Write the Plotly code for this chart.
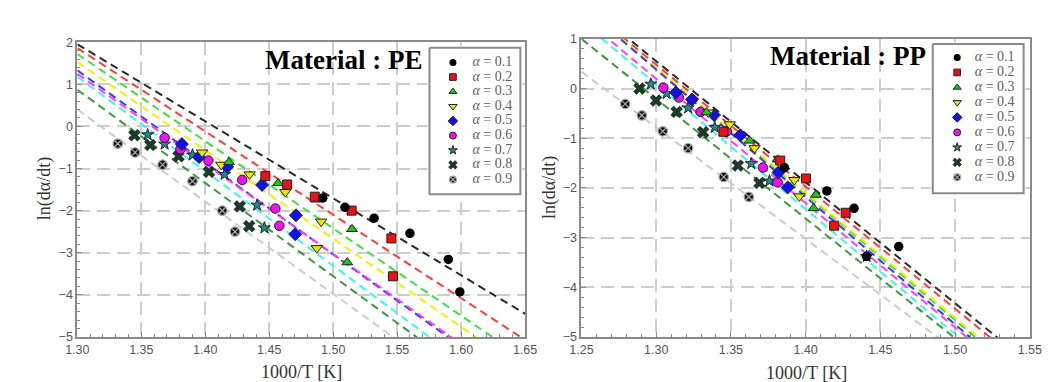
import plotly.graph_objects as go

# ---------------- data ----------------
alpha_labels = ["0.1", "0.2", "0.3", "0.4", "0.5", "0.6", "0.7", "0.8", "0.9"]

# PE (left panel) measured points
pe_a01_x = [1.4919, 1.5092, 1.532, 1.560, 1.590, 1.599]
pe_a01_y = [-1.70, -1.92, -2.18, -2.54, -3.16, -3.93]
pe_a02_x = [1.447, 1.464, 1.4856, 1.5144, 1.5455, 1.5468]
pe_a02_y = [-1.18, -1.38, -1.67, -2.00, -2.66, -3.56]
pe_a03_x = [1.4185, 1.4569, 1.4867, 1.5147, 1.511]
pe_a03_y = [-0.85, -1.35, -1.74, -2.44, -3.23]
pe_a04_x = [1.3975, 1.4125, 1.4346, 1.4626, 1.4906, 1.4872]
pe_a04_y = [-0.62, -0.91, -1.14, -1.56, -2.26, -2.89]
pe_a05_x = [1.3817, 1.3952, 1.4172, 1.4444, 1.4709, 1.4703]
pe_a05_y = [-0.42, -0.73, -0.96, -1.39, -2.11, -2.56]
pe_a06_x = [1.3682, 1.3806, 1.4024, 1.4289, 1.4548, 1.4579]
pe_a06_y = [-0.27, -0.54, -0.81, -1.27, -1.95, -2.36]
pe_a07_x = [1.355, 1.3682, 1.39, 1.4151, 1.4405, 1.4462]
pe_a07_y = [-0.20, -0.42, -0.68, -1.14, -1.87, -2.41]
pe_a08_x = [1.3446, 1.357, 1.3791, 1.4029, 1.427, 1.4343]
pe_a08_y = [-0.21, -0.44, -0.71, -1.08, -1.90, -2.37]
pe_a09_x = [1.3316, 1.3451, 1.3666, 1.39, 1.4133, 1.4232]
pe_a09_y = [-0.41, -0.62, -0.91, -1.30, -2.00, -2.50]

# PE fit lines: value at x = 1.30 and at x = 1.65
pe_fit_x = [1.30, 1.65]
pe_fit_y_start = [1.95, 1.86, 1.72, 1.53, 1.33, 1.25, 1.18, 0.87, 0.40]
pe_fit_y_end = [-4.45, -5.07, -5.53, -5.81, -6.32, -6.24, -6.68, -6.88, -7.26]

# PP (right panel) measured points
pp_a01_x = [1.3858, 1.4142, 1.4324, 1.4408, 1.4623]
pp_a01_y = [-1.59, -2.06, -2.41, -3.38, -3.18]
pp_a02_x = [1.345, 1.383, 1.4002, 1.4191, 1.4268]
pp_a02_y = [-0.87, -1.45, -1.81, -2.76, -2.50]
pp_a03_x = [1.3337, 1.3625, 1.3813, 1.4069, 1.4053]
pp_a03_y = [-0.48, -1.05, -1.43, -2.14, -2.41]
pp_a04_x = [1.3348, 1.3492, 1.3658, 1.3924, 1.3958]
pp_a04_y = [-0.48, -0.72, -1.20, -1.84, -2.17]
pp_a05_x = [1.3132, 1.3239, 1.3387, 1.3563, 1.3818, 1.388]
pp_a05_y = [-0.08, -0.22, -0.53, -0.94, -1.69, -1.99]
pp_a06_x = [1.3048, 1.3152, 1.3297, 1.3472, 1.3714, 1.3813]
pp_a06_y = [0.02, -0.18, -0.47, -0.86, -1.59, -1.89]
pp_a07_x = [1.2964, 1.307, 1.3214, 1.3392, 1.3636, 1.3758, 1.4408]
pp_a07_y = [0.09, -0.10, -0.39, -0.78, -1.51, -1.86, -3.38]
pp_a08_x = [1.2888, 1.2999, 1.3137, 1.3314, 1.3547, 1.3691]
pp_a08_y = [0.0, -0.24, -0.47, -0.88, -1.55, -1.90]
pp_a09_x = [1.2793, 1.2904, 1.3044, 1.3214, 1.3452, 1.362]
pp_a09_y = [-0.31, -0.54, -0.86, -1.20, -1.78, -2.18]

# PP fit lines: value at x = 1.25 and at x = 1.55
pp_fit_x = [1.25, 1.55]
pp_fit_y_start = [1.77, 1.71, 1.685, 1.68, 1.667, 1.45, 1.347, 1.0, 0.34]
pp_fit_y_end = [-5.54, -5.66, -5.93, -5.87, -6.03, -6.06, -6.20, -6.23, -6.39]

pe_x_ticks = [1.30, 1.35, 1.40, 1.45, 1.50, 1.55, 1.60, 1.65]
pe_y_ticks = [-5, -4, -3, -2, -1, 0, 1, 2]
pp_x_ticks = [1.25, 1.30, 1.35, 1.40, 1.45, 1.50, 1.55]
pp_y_ticks = [-5, -4, -3, -2, -1, 0, 1]

pe_series = [(pe_a01_x, pe_a01_y), (pe_a02_x, pe_a02_y), (pe_a03_x, pe_a03_y),
             (pe_a04_x, pe_a04_y), (pe_a05_x, pe_a05_y), (pe_a06_x, pe_a06_y),
             (pe_a07_x, pe_a07_y), (pe_a08_x, pe_a08_y), (pe_a09_x, pe_a09_y)]
pp_series = [(pp_a01_x, pp_a01_y), (pp_a02_x, pp_a02_y), (pp_a03_x, pp_a03_y),
             (pp_a04_x, pp_a04_y), (pp_a05_x, pp_a05_y), (pp_a06_x, pp_a06_y),
             (pp_a07_x, pp_a07_y), (pp_a08_x, pp_a08_y), (pp_a09_x, pp_a09_y)]

# ---------------- styles ----------------
line_colors = ["#2a2a2a", "#ff3b3b", "#3ee03e", "#f4f000", "#3a3aff",
               "#ff3cff", "#3cf4f4", "#3a9a3a", "#cccccc"]
marker_styles = [
    dict(symbol="circle", color="#000000", line=dict(color="#000000", width=0), k=1.0),
    dict(symbol="square", color="#ee1111", line=dict(color="#222", width=1), k=0.95),
    dict(symbol="triangle-up", color="#11cc11", line=dict(color="#222", width=1), k=1.0),
    dict(symbol="triangle-down", color="#e8e800", line=dict(color="#222", width=1), k=1.05),
    dict(symbol="diamond", color="#1111ee", line=dict(color="#222", width=1), k=1.05),
    dict(symbol="circle", color="#ee11ee", line=dict(color="#222", width=1), k=1.0),
    dict(symbol="star", color="#1f8c8c", line=dict(color="#222", width=1), k=0.95),
    dict(symbol="x", color="#1c3a2a", line=dict(color="#111", width=0.5), k=1.1),
    dict(symbol="circle-x", color="#151515", line=dict(color="#a8a8a8", width=1.2), k=1.0),
]

W, H = 1056, 382


def dx(a, b):
    return [a / W, b / W]


def dy(top, bottom):
    return [1 - bottom / H, 1 - top / H]


fig = go.Figure()

TICKFONT = dict(family="Liberation Sans, Arial", size=12.5, color="#555")
SERIF = "Liberation Serif, Times New Roman, serif"


def add_panel(series, fit_x, ys, ye, xa, ya, msize):
    for i in range(9):
        fig.add_trace(go.Scatter(
            x=fit_x, y=[ys[i], ye[i]], mode="lines", xaxis=xa, yaxis=ya,
            line=dict(color=line_colors[i], width=2, dash="8px,5px"),
            showlegend=False, hoverinfo="skip"))
    for i in range(8, -1, -1):
        sx, sy = series[i]
        st = marker_styles[i]
        fig.add_trace(go.Scatter(
            x=sx, y=sy, mode="markers", xaxis=xa, yaxis=ya,
            marker=dict(symbol=st["symbol"], color=st["color"], size=msize * st["k"],
                        line=st["line"]),
            showlegend=False, name="α = " + alpha_labels[i]))


add_panel(pe_series, pe_fit_x, pe_fit_y_start, pe_fit_y_end, "x", "y", 9.5)
add_panel(pp_series, pp_fit_x, pp_fit_y_start, pp_fit_y_end, "x2", "y2", 9.5)


def add_legend(xa, ya, w, h, mx, tx, row0, step):
    fig.add_trace(go.Scatter(
        x=[0, w, w, 0, 0], y=[0, 0, h, h, 0], mode="lines", fill="toself",
        fillcolor="white", line=dict(color="#8a8a8a", width=2),
        xaxis=xa, yaxis=ya, showlegend=False, hoverinfo="skip"))
    for i in range(9):
        st = marker_styles[i]
        fig.add_trace(go.Scatter(
            x=[mx], y=[row0 + step * i], mode="markers", xaxis=xa, yaxis=ya,
            marker=dict(symbol=st["symbol"], color=st["color"], size=7 * st["k"],
                        line=st["line"]),
            showlegend=False, hoverinfo="skip"))
        fig.add_trace(go.Scatter(
            x=[tx], y=[row0 + step * i], mode="text", xaxis=xa, yaxis=ya,
            text=["<i>α</i> = " + alpha_labels[i]], textposition="middle right",
            textfont=dict(family=SERIF, size=14, color="#606060"),
            showlegend=False, hoverinfo="skip"))


# legend boxes (pixel geometry)
L1 = (419, 34, 512, 186)
L2 = (934, 30, 1027, 185)
add_legend("x3", "y3", L1[2] - L1[0], L1[3] - L1[1], 24, 44, 15.2, 15.2)
add_legend("x4", "y4", L2[2] - L2[0], L2[3] - L2[1], 25, 43, 14.1, 15.55)

axis_common = dict(
    showline=True, linecolor="#8a8a8a", linewidth=2, mirror=True,
    showgrid=True, gridcolor="#cdcdcd", gridwidth=1.5, griddash="13px,7px",
    zeroline=False, ticks="inside", ticklen=5, tickcolor="#8a8a8a",
    tickfont=TICKFONT,
)

P1 = (58.7, 28.2, 516.8, 334.2)
P2 = (574.5, 24.8, 1033.3, 334.2)

fig.update_layout(
    width=W, height=H, margin=dict(l=0, r=0, t=0, b=0),
    paper_bgcolor="white", plot_bgcolor="white", showlegend=False,
    xaxis=dict(domain=dx(P1[0], P1[2]), range=[1.30, 1.65], tickvals=pe_x_ticks,
               tickformat=".2f", anchor="y",
               minor=dict(dtick=0.01, ticks="inside", ticklen=3, tickcolor="#8a8a8a",
                          showgrid=False), **axis_common),
    yaxis=dict(domain=dy(P1[1], P1[3]), range=[-5, 2], tickvals=pe_y_ticks, anchor="x",
               minor=dict(dtick=0.2, ticks="inside", ticklen=3, tickcolor="#8a8a8a",
                          showgrid=False), **axis_common),
    xaxis2=dict(domain=dx(P2[0], P2[2]), range=[1.25, 1.55], tickvals=pp_x_ticks,
                tickformat=".2f", anchor="y2",
                minor=dict(dtick=0.01, ticks="inside", ticklen=3, tickcolor="#8a8a8a",
                           showgrid=False), **axis_common),
    yaxis2=dict(domain=dy(P2[1], P2[3]), range=[-5, 1], tickvals=pp_y_ticks, anchor="x2",
                minor=dict(dtick=0.2, ticks="inside", ticklen=3, tickcolor="#8a8a8a",
                           showgrid=False), **axis_common),
    xaxis3=dict(domain=dx(L1[0] - 2, L1[2] + 2), range=[-2, L1[2] - L1[0] + 2],
                visible=False, anchor="y3"),
    yaxis3=dict(domain=dy(L1[1] - 2, L1[3] + 2), range=[L1[3] - L1[1] + 2, -2],
                visible=False, anchor="x3"),
    xaxis4=dict(domain=dx(L2[0] - 2, L2[2] + 2), range=[-2, L2[2] - L2[0] + 2],
                visible=False, anchor="y4"),
    yaxis4=dict(domain=dy(L2[1] - 2, L2[3] + 2), range=[L2[3] - L2[1] + 2, -2],
                visible=False, anchor="x4"),
)

ann = [
    dict(text="<b>Material : PE</b>", x=331, y=46.8, size=27, color="black", angle=0),
    dict(text="<b>Material : PP</b>", x=847.5, y=42.4, size=27, color="black", angle=0),
    dict(text="1000/T [K]", x=288.5, y=370.5, size=18, color="#333", angle=0),
    dict(text="1000/T [K]", x=804.5, y=371.5, size=18, color="#333", angle=0),
    dict(text="ln(dα/dt)", x=25.4, y=180, size=18, color="#333", angle=-90),
    dict(text="ln(dα/dt)", x=542, y=179, size=18, color="#333", angle=-90),
]
for a in ann:
    fig.add_annotation(text=a["text"], x=a["x"] / W, y=1 - a["y"] / H,
                       xref="paper", yref="paper", showarrow=False,
                       xanchor="center", yanchor="middle", textangle=a["angle"],
                       font=dict(family=SERIF, size=a["size"], color=a["color"]))

fig.write_html("out.html")
